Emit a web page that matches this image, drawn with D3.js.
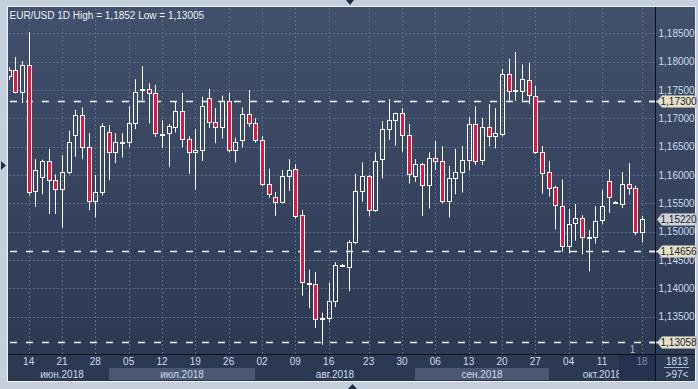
<!DOCTYPE html>
<html>
<head>
<meta charset="utf-8">
<script src="https://cdn.jsdelivr.net/npm/d3@7"></script>
<style>
  body { margin: 0; background: #c6d0dc; }
  svg { display: block; font-family: "Liberation Sans", Arial, sans-serif; }
</style>
</head>
<body>
<svg id="chart"></svg>
<script>
// daily EUR/USD bars, jun-oct 2018 (two short sunday bars included)
const dates = [
  "2018-06-11","2018-06-12","2018-06-13","2018-06-14","2018-06-15",
  "2018-06-18","2018-06-19","2018-06-20","2018-06-21","2018-06-22",
  "2018-06-25","2018-06-26","2018-06-27","2018-06-28","2018-06-29",
  "2018-07-02","2018-07-03","2018-07-04","2018-07-05","2018-07-06",
  "2018-07-09","2018-07-10","2018-07-11","2018-07-12","2018-07-13",
  "2018-07-16","2018-07-17","2018-07-18","2018-07-19","2018-07-20",
  "2018-07-23","2018-07-24","2018-07-25","2018-07-26","2018-07-27",
  "2018-07-30","2018-07-31","2018-08-01","2018-08-02","2018-08-03",
  "2018-08-06","2018-08-07","2018-08-08","2018-08-09","2018-08-10",
  "2018-08-13","2018-08-14","2018-08-15","2018-08-16","2018-08-17",
  "2018-08-19",
  "2018-08-20","2018-08-21","2018-08-22","2018-08-23","2018-08-24",
  "2018-08-27","2018-08-28","2018-08-29","2018-08-30","2018-08-31",
  "2018-09-03","2018-09-04","2018-09-05","2018-09-06","2018-09-07",
  "2018-09-10","2018-09-11","2018-09-12","2018-09-13","2018-09-14",
  "2018-09-17","2018-09-18","2018-09-19","2018-09-20","2018-09-21",
  "2018-09-24","2018-09-25","2018-09-26","2018-09-27","2018-09-28",
  "2018-10-01","2018-10-02","2018-10-03","2018-10-04","2018-10-05",
  "2018-10-08","2018-10-09","2018-10-10","2018-10-11","2018-10-12",
  "2018-10-14",
  "2018-10-15","2018-10-16","2018-10-17","2018-10-18"
];

const opens = [
  1.1774,1.1785,1.1746,1.1794,1.1571, 1.1596,1.1624,1.1591,1.1575,1.1605,
  1.1670,1.1705,1.1649,1.1555,1.1570, 1.1675,1.1640,1.1657,1.1658,1.1691,
  1.1750,1.1751,1.1744,1.1673,1.1674, 1.1684,1.1713,1.1664,1.1640,1.1644,
  1.1735,1.1693,1.1685,1.1731,1.1644, 1.1661,1.1707,1.1691,1.1661,1.1585,
  1.1562,1.1553,1.1598,1.1610,1.1529, 1.1407,1.1408,1.1346,1.1347,1.1378,
  1.1441,
  1.1437,1.1481,1.1571,1.1598,1.1539, 1.1629,1.1681,1.1697,1.1709,1.1670,
  1.1598,1.1619,1.1582,1.1630,1.1624, 1.1555,1.1594,1.1606,1.1626,1.1690,
  1.1626,1.1684,1.1668,1.1672,1.1778, 1.1749,1.1749,1.1767,1.1740,1.1640,
  1.1605,1.1579,1.1546,1.1475,1.1515, 1.1524,1.1490,1.1490,1.1520,1.1589,
  1.1550,
  1.1548,1.1584,1.1577,1.1500
];
const highs = [
  1.1790,1.1808,1.1801,1.1852,1.1628, 1.1627,1.1646,1.1601,1.1635,1.1678,
  1.1715,1.1719,1.1674,1.1600,1.1691, 1.1688,1.1674,1.1674,1.1721,1.1769,
  1.1792,1.1762,1.1759,1.1697,1.1690, 1.1729,1.1745,1.1668,1.1681,1.1738,
  1.1752,1.1718,1.1740,1.1745,1.1666, 1.1719,1.1750,1.1700,1.1669,1.1611,
  1.1570,1.1609,1.1628,1.1619,1.1538, 1.1433,1.1429,1.1357,1.1410,1.1446,
  1.1443,
  1.1485,1.1602,1.1622,1.1600,1.1640, 1.1695,1.1734,1.1710,1.1718,1.1690,
  1.1628,1.1621,1.1640,1.1660,1.1651, 1.1616,1.1646,1.1651,1.1702,1.1721,
  1.1701,1.1725,1.1718,1.1787,1.1805, 1.1817,1.1795,1.1798,1.1757,1.1651,
  1.1625,1.1581,1.1592,1.1540,1.1549, 1.1529,1.1503,1.1545,1.1574,1.1610,
  1.1554,
  1.1605,1.1621,1.1581,1.1528
];
const lows = [
  1.1768,1.1744,1.1727,1.1564,1.1544, 1.1566,1.1531,1.1531,1.1507,1.1601,
  1.1632,1.1628,1.1538,1.1525,1.1564, 1.1591,1.1621,1.1631,1.1649,1.1681,
  1.1732,1.1691,1.1667,1.1648,1.1614, 1.1675,1.1649,1.1602,1.1574,1.1625,
  1.1683,1.1656,1.1664,1.1640,1.1622, 1.1649,1.1685,1.1657,1.1580,1.1560,
  1.1528,1.1550,1.1572,1.1523,1.1387, 1.1365,1.1330,1.13005,1.1340,1.1367,
  1.1439,
  1.1395,1.1478,1.1553,1.1528,1.1535, 1.1594,1.1662,1.1652,1.1641,1.1585,
  1.1588,1.1528,1.1541,1.1609,1.1550, 1.1525,1.1566,1.1569,1.1608,1.1618,
  1.1618,1.1651,1.1647,1.1668,1.1731, 1.1731,1.1731,1.1725,1.1637,1.1567,
  1.1562,1.1504,1.1464,1.1462,1.1484, 1.1460,1.1430,1.1479,1.1514,1.1533,
  1.1549,
  1.1542,1.1565,1.1494,1.1481
];
const closes = [
  1.1785,1.1746,1.1794,1.1570,1.1609, 1.1624,1.1591,1.1575,1.1605,1.1658,
  1.1705,1.1649,1.1555,1.1570,1.1686, 1.1640,1.1658,1.1658,1.1691,1.1746,
  1.1751,1.1744,1.1674,1.1672,1.1686, 1.1713,1.1663,1.1640,1.1644,1.1721,
  1.1693,1.1685,1.1731,1.1644,1.1658, 1.1707,1.1691,1.1661,1.1585,1.1567,
  1.1553,1.1598,1.1608,1.1527,1.1411, 1.1409,1.1346,1.1347,1.1378,1.1441,
  1.1442,
  1.1481,1.1571,1.1598,1.1539,1.1624, 1.1681,1.1697,1.1709,1.1670,1.1601,
  1.1619,1.1582,1.1630,1.1625,1.1554, 1.1594,1.1605,1.1626,1.1690,1.1624,
  1.1684,1.1668,1.1674,1.1778,1.1749, 1.1750,1.1769,1.1741,1.1641,1.1603,
  1.1577,1.1547,1.1475,1.1513,1.1525, 1.1490,1.1491,1.1519,1.1545,1.1561,
  1.1553,
  1.1584,1.1577,1.1500,1.1522
];

const tickDates = ["2018-06-14","2018-06-21","2018-06-28","2018-07-05","2018-07-12",
  "2018-07-19","2018-07-26","2018-08-02","2018-08-09","2018-08-16","2018-08-23",
  "2018-08-30","2018-09-06","2018-09-13","2018-09-20","2018-09-27","2018-10-04",
  "2018-10-11","2018-10-18"];
const tickLabels = ["14","21","28","05","12","19","26","02","09","16","23","30",
  "06","13","20","27","04","11","18"];
const monthKeys = ["2018-06","2018-07","2018-08","2018-09","2018-10"];
const monthLabels = ["июн.2018","июл.2018","авг.2018","сен.2018","окт.2018"];

const yTicks = [1.135, 1.140, 1.145, 1.150, 1.155, 1.160, 1.165, 1.170, 1.175, 1.180, 1.185];
const levels = [1.17300, 1.14656, 1.13058];
const lastPrice = 1.15220;
const title = "EUR/USD 1D High = 1,1852 Low = 1,13005";

const W = 698, H = 389;
const plot = {left: 9, top: 8, right: 655, bottom: 354};
const red = "#e0173f", textBlue = "#cddbf0";
const fs = 10;

const fmt = (d) => d3.format(".5f")(d).replace(".", ",");

const svg = d3.select("#chart").attr("width", W).attr("height", H);

const defs = svg.append("defs");
const grad = defs.append("linearGradient").attr("id", "bg")
    .attr("x1", 0).attr("y1", 0).attr("x2", 0).attr("y2", 1);
grad.append("stop").attr("offset", 0).attr("stop-color", "#41506c");
grad.append("stop").attr("offset", 1).attr("stop-color", "#2b3852");
defs.append("clipPath").attr("id", "clip")
  .append("rect")
    .attr("x", plot.left).attr("y", plot.top)
    .attr("width", plot.right - plot.left).attr("height", plot.bottom - plot.top);

// frame
svg.append("rect").attr("width", W).attr("height", H).attr("fill", "#c6d0dc");
svg.append("rect")
    .attr("x", 7.5).attr("y", 6.5).attr("width", 688).attr("height", 375)
    .attr("fill", "url(#bg)").attr("stroke", "#eef2f6");

const step = 20 / 3;
const x = d3.scaleBand()
    .domain(dates)
    .range([8.67 - step / 2, 8.67 + (dates.length - 0.5) * step]);
const cx = (d) => x(d) + x.bandwidth() / 2;

const y = d3.scaleLinear().domain([1.135, 1.185]).range([316.7, 33.3]);

// month bands
const monthStart = monthKeys.map(m => dates.find(d => d.startsWith(m)));
monthKeys.forEach((m, i) => {
    let x0 = i === 0 ? plot.left : Math.round(cx(monthStart[i]));
    let x1 = i === monthKeys.length - 1 ? plot.right : Math.round(cx(monthStart[i + 1]));
    if (i % 2 === 1) {
        svg.append("rect")
            .attr("x", x0).attr("y", 368).attr("width", x1 - x0).attr("height", 12)
            .attr("fill", "#4a5874");
    }
    svg.append("text")
        .attr("x", (x0 + x1) / 2 + (i === 0 ? 3 : 0)).attr("y", 377.5)
        .attr("text-anchor", "middle")
        .attr("font-size", fs).attr("fill", textBlue)
        .text(monthLabels[i]);
});

// current week box
svg.append("rect")
    .attr("x", 619).attr("y", 355).attr("width", 36).attr("height", 25)
    .attr("fill", "#243150");

// grid
svg.append("g").selectAll("line").data(yTicks).join("line")
    .attr("x1", plot.left).attr("x2", plot.right + 2)
    .attr("y1", d => Math.round(y(d)) + 0.5).attr("y2", d => Math.round(y(d)) + 0.5)
    .attr("stroke", "#5c6b88").attr("stroke-dasharray", "2,2");
svg.append("g").selectAll("line").data(tickDates).join("line")
    .attr("x1", d => Math.round(cx(d)) + 0.5).attr("x2", d => Math.round(cx(d)) + 0.5)
    .attr("y1", plot.top).attr("y2", plot.bottom)
    .attr("stroke", "#5c6b88").attr("stroke-dasharray", "2,2");

// level lines
svg.append("g").selectAll("line").data(levels).join("line")
    .attr("x1", 10).attr("x2", plot.right)
    .attr("y1", d => Math.round(y(d)) + 0.5).attr("y2", d => Math.round(y(d)) + 0.5)
    .attr("stroke", "#f4f6fa").attr("stroke-width", 1.6).attr("stroke-dasharray", "7,9");
svg.append("g").selectAll("line").data(levels).join("line")
    .attr("x1", plot.right - 6).attr("x2", plot.right + 3)
    .attr("y1", d => Math.round(y(d)) + 0.5).attr("y2", d => Math.round(y(d)) + 0.5)
    .attr("stroke", "#f4f6fa").attr("stroke-width", 1.6);

// candles
const bars = dates.map((d, i) => ({date: d, o: opens[i], h: highs[i], l: lows[i], c: closes[i]}));
const cg = svg.append("g").attr("clip-path", "url(#clip)");
bars.forEach(b => {
    let px = Math.round(cx(b.date));
    let top = Math.round(y(Math.max(b.o, b.c))) + 0.5;
    let bot = Math.round(y(Math.min(b.o, b.c))) + 0.5;
    if (bot - top < 1) bot = top + 1;
    cg.append("line")
        .attr("x1", px + 0.5).attr("x2", px + 0.5)
        .attr("y1", y(b.h)).attr("y2", top)
        .attr("stroke", "#fff");
    cg.append("line")
        .attr("x1", px + 0.5).attr("x2", px + 0.5)
        .attr("y1", bot).attr("y2", y(b.l))
        .attr("stroke", "#fff");
    cg.append("rect")
        .attr("x", px - 1.5).attr("y", top)
        .attr("width", 4).attr("height", bot - top)
        .attr("fill", b.c < b.o ? red : "none")
        .attr("stroke", "#fff");
});

// axis lines
svg.append("line").attr("x1", 8).attr("x2", 695).attr("y1", 354.5).attr("y2", 354.5)
    .attr("stroke", "#0c1016");
svg.append("line").attr("x1", 655.5).attr("x2", 655.5).attr("y1", 7).attr("y2", 381)
    .attr("stroke", "#0c1016");

// right axis
svg.append("g")
    .attr("transform", "translate(656,0)")
    .call(d3.axisRight(y).tickValues(yTicks).tickSize(0).tickPadding(2.5).tickFormat(fmt))
    .call(g => g.select(".domain").remove())
    .selectAll("text")
        .attr("font-family", "Liberation Sans, Arial, sans-serif")
        .attr("font-size", fs).attr("fill", textBlue);

// bottom axis
svg.append("g")
    .attr("transform", "translate(0,354)")
    .call(d3.axisBottom(x).tickValues(tickDates).tickSize(0).tickPadding(4)
        .tickFormat((d, i) => tickLabels[i]))
    .call(g => g.select(".domain").remove())
    .selectAll("text")
        .attr("font-family", "Liberation Sans, Arial, sans-serif")
        .attr("font-size", fs)
        .attr("fill", (d, i) => i === tickDates.length - 1 ? "#7d8ca6" : textBlue);

// price tags
function addTag(value, fill) {
    let ty = Math.round(y(value)) + 0.5;
    svg.append("path")
        .attr("d", `M657,${ty} L662,${ty - 6} L696,${ty - 6} L696,${ty + 6} L662,${ty + 6} Z`)
        .attr("fill", fill).attr("stroke", "#9aa3ae").attr("stroke-width", 0.5);
    svg.append("text")
        .attr("x", 660.5).attr("y", ty + 3.5)
        .attr("font-size", fs).attr("fill", "#1b2333")
        .text(fmt(value));
}
levels.forEach(v => addTag(v, "#e4e1c6"));
addTag(lastPrice, "#cdd2d8");

// title and small texts
svg.append("text").attr("x", 9.5).attr("y", 18.5)
    .attr("font-size", fs).attr("fill", "#eef2f8").text(title);
svg.append("text").attr("x", 632.5).attr("y", 352.5).attr("text-anchor", "middle")
    .attr("font-size", fs).attr("fill", "#9fc0ec").text("1");
svg.append("text").attr("x", 677).attr("y", 365).attr("text-anchor", "middle")
    .attr("font-size", fs).attr("fill", textBlue).text("1813");
svg.append("line").attr("x1", 664).attr("x2", 689).attr("y1", 367.5).attr("y2", 367.5)
    .attr("stroke", "#9fb0c8");
svg.append("text").attr("x", 677).attr("y", 378).attr("text-anchor", "middle")
    .attr("font-size", fs).attr("fill", textBlue).text(">97<");

// scroll arrows
svg.append("path").attr("d", "M346,0 L354,0 L350,5 Z").attr("fill", "#1e2a40");
svg.append("path").attr("d", "M348,389 L357,389 L352.5,384 Z").attr("fill", "#1e2a40");
svg.append("path").attr("d", "M1,161 L1,170 L6,165.5 Z").attr("fill", "#1e2a40");
</script>
</body>
</html>
